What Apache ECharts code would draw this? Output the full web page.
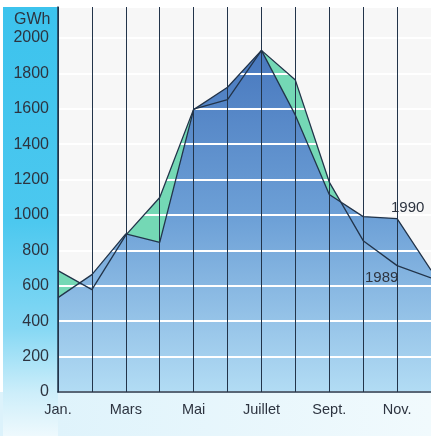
<!DOCTYPE html>
<html><head><meta charset="utf-8">
<script src="https://cdn.jsdelivr.net/npm/echarts@6/dist/echarts.min.js"></script>
<style>html,body{margin:0;padding:0;background:#fff}#c{width:431px;height:436px}</style>
</head><body><div id="c"></div>
<script>
const months = ['Jan.','Févr.','Mars','Avr.','Mai','Juin','Juillet','Août','Sept.','Oct.','Nov.','Déc.'];
const v1989 = [686, 578, 886, 1099, 1598, 1652, 1930, 1762, 1186, 855, 714, 645];
const v1990 = [533, 663, 893, 845, 1595, 1722, 1930, 1564, 1116, 991, 980, 688];
const yUnit = 'GWh';

const FONT = '"Liberation Sans", Arial, sans-serif';
const DARK = '#22344a';
const chart = echarts.init(document.getElementById('c'), null, {renderer: 'canvas'});
const blue = new echarts.graphic.LinearGradient(0, 50, 0, 392, [
  {offset: 0, color: '#4878be'},
  {offset: 0.5, color: '#6ea1d7'},
  {offset: 1, color: '#b2dcf4'}
], true);
chart.setOption({
  animation: false,
  backgroundColor: '#ffffff',
  textStyle: {fontFamily: FONT},
  grid: {left: 58, right: -1, top: 7, bottom: 44, show: true, backgroundColor: '#f7f7f7', borderWidth: 0},
  graphic: [
    {type: 'rect', z: -10, silent: true, shape: {x: 3, y: 7, width: 55, height: 429},
     style: {fill: new echarts.graphic.LinearGradient(0, 0, 0, 1, [
       {offset: 0, color: '#3cc3ed'},
       {offset: 0.5, color: '#4cc8ef'},
       {offset: 0.75, color: '#86d8f4'},
       {offset: 0.9, color: '#cdeefa'},
       {offset: 1, color: '#eef9fd'}
     ])}},
    {type: 'rect', z: -11, silent: true, shape: {x: 0, y: 392, width: 431, height: 44},
     style: {fill: new echarts.graphic.LinearGradient(0, 0, 1, 0, [
       {offset: 0, color: '#dcf2fb'},
       {offset: 1, color: '#f1fafd'}
     ])}},
    {type: 'text', z: 20, left: 14, top: 12, style: {text: yUnit, font: '16px ' + FONT, fill: '#2d3440'}},
    {type: 'text', z: 20, left: 391, top: 200, style: {text: '1990', font: '15px ' + FONT, fill: '#2d3440'}},
    {type: 'text', z: 20, left: 365, top: 270, style: {text: '1989', font: '15px ' + FONT, fill: '#2d3440'}}
  ],
  xAxis: {
    type: 'category', data: months, boundaryGap: false, z: 4,
    axisLine: {show: true, lineStyle: {color: DARK, width: 1.5}},
    axisTick: {show: false},
    splitLine: {show: true, interval: 0, lineStyle: {color: DARK, width: 1}},
    axisLabel: {interval: 1, fontSize: 14.5, color: '#2d3440', margin: 10, fontFamily: FONT}
  },
  yAxis: {
    type: 'value', min: 0, max: 2175, interval: 200, z: 3,
    axisLine: {show: true, lineStyle: {color: DARK, width: 1.5}},
    axisTick: {show: false},
    splitLine: {show: true, lineStyle: {color: '#ffffff', width: 2}},
    axisLabel: {showMaxLabel: false, fontSize: 16, color: '#2d3440', margin: 9, fontFamily: FONT,
                formatter: function (v) { return String(v); }}
  },
  series: [
    {name: '1989 area', type: 'line', data: v1989, z: 1, symbol: 'none',
     lineStyle: {width: 0}, areaStyle: {color: '#74d8b5', opacity: 1}},
    {name: '1990 area', type: 'line', data: v1990, z: 2, symbol: 'none',
     lineStyle: {width: 0}, areaStyle: {color: blue, opacity: 1}},
    {name: '1989', type: 'line', data: v1989, z: 10, symbol: 'none',
     lineStyle: {color: DARK, width: 1.3}},
    {name: '1990', type: 'line', data: v1990, z: 10, symbol: 'none',
     lineStyle: {color: DARK, width: 1.3}}
  ]
});
</script></body></html>
